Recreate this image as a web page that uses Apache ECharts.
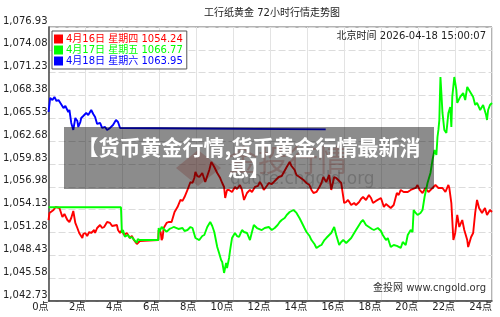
<!DOCTYPE html>
<html>
<head>
<meta charset="utf-8">
<title>工行纸黄金 72小时行情走势图</title>
<script src="https://cdn.jsdelivr.net/npm/echarts@6/dist/echarts.min.js"></script>
<style>
  html, body { margin: 0; padding: 0; background: #fff; }
  #chart { width: 500px; height: 317px; }
</style>
</head>
<body>
<div id="chart"></div>
<script>
// 3 days, each plotted over 0-24 hours
var dayLabels = ["4月16日 星期四", "4月17日 星期五", "4月18日 星期六"];
var lastPrices = ["1054.24", "1066.77", "1063.95"];
var lineColors = ["#ff0000", "#00ff00", "#0000ff"];

var xTicks = [0, 2, 4, 6, 8, 10, 12, 14, 16, 18, 20, 22, 24];
var yTicks = [1042.73, 1045.58, 1048.43, 1051.28, 1054.13, 1056.98, 1059.83,
  1062.68, 1065.53, 1068.38, 1071.23, 1074.08, 1076.93];

// 4月16日
var redHours = [0, 0.05, 0.11, 0.27, 0.38, 0.48, 0.59, 0.75, 0.86, 0.91, 1.02, 1.13, 1.23, 1.34, 1.45, 1.56, 1.66, 1.83, 1.88, 1.99,
  2.09, 2.20, 2.31, 2.47, 2.52, 2.63, 2.79, 2.90, 3.01, 3.17, 3.33, 3.44, 3.54, 3.70, 3.76, 3.87, 3.97, 4.08, 4.24, 4.40,
  4.51, 4.62, 4.78, 4.94, 5.00, 5.94, 5.96, 6.07, 6.12, 6.17, 6.23, 6.39, 6.50, 6.66, 6.82, 6.98, 7.14, 7.25, 7.36, 7.52,
  7.68, 7.79, 7.89, 7.95, 8.05, 8.16, 8.32, 8.48, 8.59, 8.70, 8.81, 8.91, 8.97, 9.13, 9.29, 9.40, 9.50, 9.56, 9.66, 9.77,
  9.93, 10.09, 10.20, 10.36, 10.47, 10.58, 10.74, 10.90, 11.01, 11.17, 11.33, 11.44, 11.54, 11.65, 11.81, 11.92, 12.08, 12.19, 12.35, 12.46,
  12.62, 12.72, 12.89, 13.05, 13.15, 13.32, 13.42, 13.58, 13.80, 13.96, 14.12, 14.23, 14.34, 14.50, 14.66, 14.77, 14.87, 15.03, 15.19, 15.30,
  15.46, 15.57, 15.68, 15.84, 16.00, 16.11, 16.21, 16.38, 16.54, 16.64, 16.81, 16.91, 17.02, 17.18, 17.34, 17.45, 17.56, 17.72, 17.82, 17.99,
  18.15, 18.26, 18.36, 18.52, 18.68, 18.85, 18.95, 19.06, 19.22, 19.33, 19.44, 19.60, 19.70, 19.87, 19.97, 20.08, 20.24, 20.40, 20.56, 20.78,
  20.94, 21.10, 21.32, 21.48, 21.64, 21.69, 21.80, 21.85, 21.91, 22.01, 22.12, 22.23, 22.39, 22.50, 22.66, 22.71, 22.87, 22.98, 23.09, 23.19,
  23.30, 23.46, 23.62, 23.73, 23.89, 24.00];
var redValues = [1052.84, 1053.72, 1053.96, 1054.09, 1054.46, 1054.22, 1054.34, 1053.22, 1053.59, 1053.72, 1052.84, 1052.59, 1053.09, 1053.96, 1052.47, 1051.84, 1051.22, 1050.59, 1051.09, 1051.22,
  1050.84, 1051.34, 1051.22, 1051.59, 1051.22, 1051.84, 1052.22, 1051.84, 1051.97, 1052.59, 1052.47, 1052.09, 1051.97, 1052.22, 1051.59, 1051.22, 1051.59, 1050.97, 1051.22, 1050.59,
  1050.84, 1050.34, 1049.85, 1050.22, 1050.34, 1050.34, 1051.59, 1051.34, 1050.34, 1050.59, 1051.84, 1052.47, 1052.59, 1052.59, 1053.84, 1054.46, 1055.34, 1055.22, 1055.71, 1056.59,
  1057.58, 1057.46, 1058.08, 1058.83, 1058.33, 1058.21, 1058.71, 1057.58, 1058.33, 1059.08, 1060.08, 1059.71, 1059.46, 1058.71, 1058.08, 1057.46, 1056.96, 1055.59, 1056.59, 1056.59,
  1056.34, 1056.96, 1056.71, 1057.21, 1056.59, 1055.34, 1056.21, 1056.59, 1056.34, 1056.96, 1057.09, 1057.58, 1057.21, 1056.59, 1057.09, 1057.46, 1057.33, 1057.58, 1057.96, 1058.21,
  1058.33, 1058.46, 1059.46, 1060.08, 1059.58, 1059.08, 1058.46, 1058.21, 1057.83, 1057.46, 1057.21, 1056.59, 1056.21, 1056.34, 1056.96, 1057.46, 1058.21, 1057.58, 1058.46, 1056.59,
  1058.21, 1058.08, 1057.83, 1057.46, 1054.96, 1055.09, 1055.34, 1054.71, 1054.96, 1054.71, 1055.09, 1055.46, 1055.71, 1055.34, 1055.96, 1055.59, 1054.96, 1055.22, 1055.34, 1055.59,
  1054.46, 1054.84, 1054.71, 1054.34, 1054.71, 1056.21, 1055.96, 1056.59, 1056.34, 1056.34, 1056.34, 1056.59, 1056.59, 1056.84, 1057.21, 1056.59, 1056.21, 1056.84, 1056.34, 1056.84,
  1057.21, 1056.84, 1056.84, 1056.34, 1057.21, 1056.84, 1054.96, 1052.84, 1050.34, 1051.22, 1053.47, 1051.97, 1052.84, 1051.59, 1050.34, 1049.47, 1050.72, 1051.22, 1053.72, 1055.34,
  1054.34, 1053.72, 1054.34, 1053.47, 1054.09, 1053.84];

// 4月17日
var greenHours = [0, 3.92, 3.97, 4.03, 4.13, 4.30, 4.40, 4.51, 4.67, 4.78, 4.83, 4.94, 5.94, 5.96, 6.01, 6.12, 6.23, 6.39, 6.55, 6.66,
  6.77, 6.87, 7.03, 7.25, 7.36, 7.52, 7.68, 7.79, 7.95, 8.16, 8.32, 8.43, 8.59, 8.75, 8.86, 8.97, 9.13, 9.23, 9.34, 9.40,
  9.50, 9.61, 9.66, 9.77, 9.83, 9.93, 10.09, 10.20, 10.31, 10.47, 10.58, 10.74, 10.90, 11.01, 11.11, 11.28, 11.38, 11.54, 11.70, 11.92,
  12.08, 12.24, 12.40, 12.51, 12.62, 12.78, 12.89, 13.05, 13.15, 13.26, 13.42, 13.58, 13.69, 13.85, 13.96, 14.13, 14.23, 14.39, 14.50, 14.66,
  14.77, 14.93, 15.03, 15.19, 15.30, 15.46, 15.57, 15.73, 15.84, 15.95, 16.11, 16.21, 16.38, 16.48, 16.64, 16.81, 16.91, 17.02, 17.18, 17.34,
  17.50, 17.61, 17.82, 17.99, 18.09, 18.26, 18.36, 18.52, 18.68, 18.85, 18.95, 19.06, 19.17, 19.33, 19.44, 19.60, 19.70, 19.76, 19.87, 19.97,
  20.13, 20.24, 20.35, 20.51, 20.67, 20.78, 20.89, 20.99, 21.05, 21.10, 21.15, 21.18, 21.21, 21.26, 21.32, 21.42, 21.53, 21.64, 21.74, 21.80,
  21.85, 21.96, 22.07, 22.12, 22.28, 22.44, 22.55, 22.66, 22.82, 22.98, 23.09, 23.19, 23.36, 23.52, 23.68, 23.73, 23.79, 23.89, 24.00];
var greenValues = [1054.43, 1054.43, 1051.22, 1051.59, 1050.76, 1050.97, 1050.59, 1050.72, 1050.26, 1050.01, 1050.47, 1050.34, 1050.34, 1051.84, 1051.34, 1051.97, 1051.72, 1051.38, 1051.72, 1051.84,
  1051.97, 1052.09, 1051.72, 1051.84, 1051.47, 1051.59, 1051.97, 1051.84, 1050.59, 1050.34, 1050.84, 1050.97, 1051.97, 1052.59, 1052.09, 1051.34, 1049.47, 1048.72, 1047.85, 1047.60,
  1046.23, 1047.47, 1046.85, 1048.10, 1049.10, 1050.59, 1051.22, 1050.84, 1050.72, 1051.59, 1051.34, 1051.22, 1050.34, 1051.34, 1052.22, 1051.84, 1051.97, 1051.59, 1051.84, 1051.97,
  1051.59, 1051.84, 1052.22, 1052.59, 1052.84, 1053.09, 1053.47, 1053.84, 1053.72, 1054.09, 1053.72, 1053.09, 1052.59, 1051.84, 1051.34, 1050.84, 1050.34, 1049.85, 1049.35, 1049.60,
  1049.72, 1050.34, 1050.59, 1050.97, 1051.22, 1051.97, 1050.97, 1049.72, 1050.09, 1050.34, 1049.97, 1050.09, 1050.59, 1050.72, 1051.59, 1052.22, 1052.59, 1052.84, 1052.22, 1051.97,
  1051.72, 1051.59, 1051.84, 1051.47, 1050.97, 1050.34, 1050.59, 1049.47, 1049.72, 1049.60, 1049.72, 1049.35, 1050.09, 1049.72, 1050.97, 1051.59, 1051.34, 1054.09, 1053.72, 1053.47,
  1053.72, 1054.09, 1055.71, 1057.46, 1058.71, 1060.33, 1061.58, 1060.96, 1063.20, 1064.08, 1065.32, 1068.20, 1070.69, 1068.69, 1066.20, 1064.08, 1063.70, 1066.20, 1066.95, 1064.45,
  1068.20, 1070.69, 1069.07, 1067.45, 1068.20, 1068.69, 1067.82, 1069.44, 1068.82, 1068.20, 1067.20, 1067.45, 1066.57, 1067.20, 1065.95, 1065.32, 1066.57, 1067.20, 1067.45];

// 4月18日 (till 15:00)
var blueHours = [0, 0.09, 0.21, 0.32, 0.43, 0.54, 0.64, 0.81, 0.91, 1.07, 1.13, 1.23, 1.34, 1.45, 1.56, 1.61, 1.72, 1.77, 1.88, 2.04,
  2.15, 2.31, 2.42, 2.52, 2.63, 2.79, 2.90, 3.06, 3.17, 3.33, 3.49, 3.65, 3.76, 3.87, 3.92, 15.00];
var blueValues = [1066.32, 1068.07, 1067.82, 1068.20, 1067.70, 1067.82, 1067.95, 1066.82, 1067.07, 1066.32, 1066.57, 1064.95, 1064.08, 1065.57, 1065.20, 1064.45, 1065.07, 1065.57, 1065.82, 1066.20,
  1065.95, 1066.57, 1066.07, 1065.70, 1064.83, 1064.95, 1064.33, 1064.45, 1064.08, 1064.33, 1064.70, 1065.32, 1065.07, 1064.33, 1064.15, 1064.15];

var seriesHours = [redHours, greenHours, blueHours];
var seriesValues = [redValues, greenValues, blueValues];

var FONT = "'DejaVu Sans', 'Noto Sans CJK SC', sans-serif";
var names = dayLabels.map(function (d, i) { return d + " " + lastPrices[i]; });

function pairs(hs, vs) {
  return hs.map(function (h, i) { return [h, vs[i]]; });
}

var chart = echarts.init(document.getElementById("chart"), null, { renderer: "canvas" });

var option = {
  animation: false,
  backgroundColor: "#fff",
  title: {
    text: "工行纸黄金 72小时行情走势图",
    left: 204,
    top: 8,
    padding: 0,
    textStyle: { fontSize: 10, fontWeight: "normal", color: "#222", fontFamily: FONT }
  },
  legend: {
    orient: "vertical",
    left: 52,
    top: 31,
    padding: [3, 4, 3, 2],
    itemGap: 1,
    itemWidth: 9,
    itemHeight: 9,
    icon: "rect",
    selectedMode: false,
    backgroundColor: "#fff",
    borderColor: "#555",
    borderWidth: 1,
    textStyle: { fontSize: 10, fontFamily: FONT, padding: [0, 0, 0, -2] },
    data: names.map(function (n, i) {
      return { name: n, textStyle: { color: lineColors[i] } };
    })
  },
  grid: {
    left: 45,
    top: 27,
    right: 8,
    bottom: 16,
    show: true,
    borderColor: "#666",
    borderWidth: 1,
    containLabel: false
  },
  xAxis: {
    type: "value",
    min: xTicks[0],
    max: xTicks[xTicks.length - 1],
    interval: xTicks[1] - xTicks[0],
    axisLine: { lineStyle: { color: "#444", width: 1.5 } },
    axisTick: { show: false },
    axisLabel: {
      margin: 1,
      align: "right",
      fontSize: 10,
      color: "#222",
      fontFamily: FONT,
      formatter: function (v) { return v + "点"; }
    },
    splitLine: { show: true, lineStyle: { color: "#e3e3e3", width: 1 } }
  },
  yAxis: {
    type: "value",
    min: yTicks[0],
    max: yTicks[yTicks.length - 1],
    interval: Math.round((yTicks[1] - yTicks[0]) * 100) / 100,
    axisLine: { show: true, lineStyle: { color: "#444", width: 1.5 } },
    axisTick: { show: false },
    axisLabel: {
      margin: 1,
      verticalAlign: "bottom",
      padding: [0, 0, 1, 0],
      fontSize: 10,
      color: "#222",
      fontFamily: FONT,
      formatter: function (v) {
        return v.toLocaleString("en-US", { minimumFractionDigits: 2, maximumFractionDigits: 2 });
      }
    },
    splitLine: { show: true, lineStyle: { color: "#dcdcdc", width: 1, type: [7, 3] } }
  },
  series: names.map(function (n, i) {
    return {
      name: n,
      type: "line",
      data: pairs(seriesHours[i], seriesValues[i]),
      showSymbol: false,
      symbol: "none",
      color: lineColors[i],
      lineStyle: { color: lineColors[i], width: 1.9 },
      z: 3 + i
    };
  }),
  graphic: [
    {
      type: "text",
      x: 486,
      y: 36,
      z: 5,
      style: {
        text: "北京时间 2026-04-18 15:00:07",
        fill: "#222",
        font: "10px " + FONT,
        align: "right",
        verticalAlign: "middle"
      }
    },
    {
      type: "text",
      x: 486,
      y: 288,
      z: 5,
      style: {
        text: "金投网 www.cngold.org",
        fill: "#333",
        font: "10px " + FONT,
        align: "right",
        verticalAlign: "middle"
      }
    },
    // faint site logo behind the caption
    {
      type: "polygon",
      z: 1,
      shape: { points: [[198, 150], [221, 168], [198, 186], [176, 168]] },
      style: { fill: "rgba(215,110,100,0.35)" }
    },
    {
      type: "text",
      x: 228,
      y: 160,
      z: 1,
      style: {
        text: "金投行情",
        fill: "rgba(200,80,70,0.3)",
        font: "30px 'Noto Sans CJK SC'",
        verticalAlign: "middle"
      }
    },
    {
      type: "text",
      x: 230,
      y: 180,
      z: 1,
      style: {
        text: "quote.cngold.org",
        fill: "rgba(120,120,120,0.35)",
        font: "17px " + FONT,
        verticalAlign: "middle"
      }
    },
    // caption overlay
    {
      type: "rect",
      z: 100,
      shape: { x: 64, y: 127, width: 370, height: 62 },
      style: { fill: "rgba(0,0,0,0.45)" }
    },
    {
      type: "text",
      x: 249,
      y: 157.5,
      z: 101,
      style: {
        text: "【货币黄金行情,货币黄金行情最新消\n息】",
        fill: "#fff",
        font: "bold 21px 'Noto Sans CJK SC'",
        lineHeight: 21,
        align: "center",
        verticalAlign: "middle"
      }
    }
  ]
};

chart.setOption(option);
</script>
</body>
</html>
